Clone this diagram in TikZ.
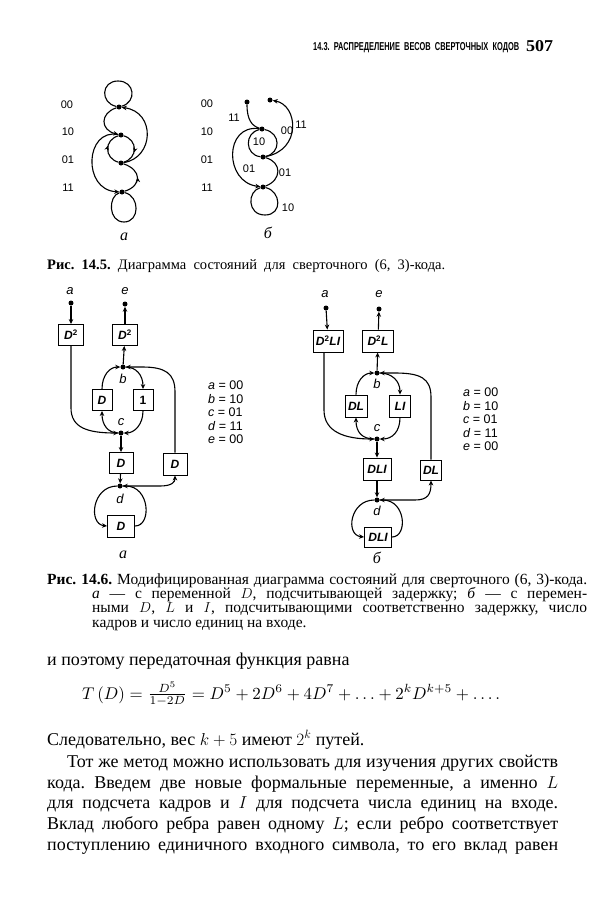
\documentclass[tikz,border=0pt]{standalone}
\usepackage{fontspec}
\setmainfont{Liberation Serif}
\newfontfamily\dfont{Liberation Sans}
\usetikzlibrary{arrows.meta,decorations.markings}
\frenchspacing
\tikzset{
  ed/.style={line width=1.1pt},
  tip/.style={-{Stealth[length=5pt,width=4.5pt]}},
  dotn/.style={circle,fill,inner sep=0pt,minimum size=5pt},
  bx/.style={draw,line width=0.9pt,inner sep=0pt,minimum height=21pt,fill=white,font=\dfont\itshape\bfseries\fontsize{12}{13}\selectfont},
  midar/.style={postaction={decorate},decoration={markings,mark=at position #1 with {\arrow{Stealth[length=5pt,width=4.5pt]}}}},
  lbl/.style={font=\dfont\fontsize{11}{12}\selectfont,inner sep=0pt},
  vl/.style={font=\dfont\itshape\fontsize{13}{13}\selectfont,inner sep=0pt},
  lg/.style={font=\dfont\fontsize{12.5}{13.4}\selectfont,align=left,anchor=north west,inner sep=0pt},
  sublbl/.style={font=\itshape\fontsize{16}{16}\selectfont,inner sep=0pt},
  txt/.style={anchor=base west,inner sep=0pt},
  bodyf/.style={font=\fontsize{18}{21}\selectfont},
  capf/.style={font=\fontsize{14.5}{16}\selectfont},
  capg/.style={font=\fontsize{15.5}{16}\selectfont},
}
\begin{document}
\begin{tikzpicture}[x=1pt,y=-1pt]
\fill[white] (0,0) rectangle (614,900);
\useasboundingbox (0,0) rectangle (614,900);

% ---------------- header
\node[txt] (hd) at (313,50) {\resizebox{206pt}{8pt}{\dfont\bfseries 14.3.~~РАСПРЕДЕЛЕНИЕ~~ВЕСОВ~~СВЕРТОЧНЫХ~~КОДОВ}};
\node[txt] (pg) at (526,51) {\resizebox{27pt}{11pt}{\bfseries 507}};

% ---------------- Fig 14.5 a
\node[lbl] (la00) at (67,105) {00};
\node[lbl] (la10) at (68,132) {10};
\node[lbl] (la01) at (68,160) {01};
\node[lbl] (la11) at (68,188) {11};
\node[dotn] (a00) at (119,107) {};
\node[dotn] (a10) at (121,135) {};
\node[dotn] (a01) at (121,163) {};
\node[dotn] (a11) at (122,192) {};
\draw[ed] (a00) .. controls (100,103) and (101,81) .. (118,81) .. controls (135,81) and (137,102) .. (a00);
\draw[ed,tip] (a00) .. controls (100,113) and (100,130) .. (a10);
\draw[ed,midar=0.6] (a01) .. controls (104,158) and (104,140) .. (a10);
\draw[ed,midar=0.6] (a10) .. controls (138,140) and (138,158) .. (a01);
\draw[ed,tip] (a01) .. controls (154,158) and (156,112) .. (a00);
\draw[ed,tip] (a10) .. controls (85,128) and (82,190) .. (a11);
\draw[ed,midar=0.5] (a11) .. controls (142,186) and (142,170) .. (a01);
\draw[ed] (a11) .. controls (108,196) and (108,222) .. (124,222) .. controls (140,222) and (140,196) .. (a11);
\node[sublbl] (capa1) at (124,237) {а};

% ---------------- Fig 14.5 b
\node[lbl] (lb00) at (207,104) {00};
\node[lbl] (lb10) at (207,132) {10};
\node[lbl] (lb01) at (207,160) {01};
\node[lbl] (lb11) at (207,188) {11};
\node[dotn] (btl) at (247,102) {};
\node[dotn] (btr) at (270,100) {};
\node[dotn] (b10) at (262,129) {};
\node[dotn] (b01) at (263,157) {};
\node[dotn] (b11) at (263,187) {};
\draw[ed] (btl) .. controls (247,120) and (252,126) .. (b10);
\draw[ed,tip] (b01) .. controls (302,150) and (298,105) .. (btr);
\draw[ed] (b10) .. controls (244,133) and (245,155) .. (b01);
\draw[ed] (b01) .. controls (281,153) and (281,133) .. (b10);
\draw[ed,tip] (b10) .. controls (224,124) and (224,182) .. (b11);
\draw[ed] (b11) .. controls (282,180) and (282,162) .. (b01);
\draw[ed] (b11) .. controls (247,191) and (247,215) .. (265,215) .. controls (283,215) and (281,191) .. (b11);
\node[lbl] (e1) at (234,118) {11};
\node[lbl] (e2) at (301,125) {11};
\node[lbl] (e3) at (259,142) {10};
\node[lbl] (e4) at (287,131) {00};
\node[lbl] (e5) at (249,169) {01};
\node[lbl] (e6) at (285,173) {01};
\node[lbl] (e7) at (288,208) {10};
\node[sublbl] (capb1) at (268,233) {б};

% ---------------- caption 14.5
\node[txt,capf] (c145) at (47,269) {\makebox[398pt][s]{\textbf{Рис. 14.5.} Диаграмма состояний для сверточного (6,~3)-кода.}};

% ---------------- Fig 14.6 a
\node[dotn] (Aa) at (71,303) {};
\node[vl] (lAa) at (70,291) {a};
\node[dotn] (Ae) at (125,304) {};
\node[vl] (lAe) at (125,291) {e};
\node[bx,minimum width=25pt] (AD2l) at (71,335) {D\textsuperscript{\upshape 2}};
\node[bx,minimum width=25pt] (AD2r) at (125,335) {D\textsuperscript{\upshape 2}};
\node[dotn] (Ab) at (123,367) {};
\node[vl] (lAb) at (123,379) {b};
\node[bx,minimum width=20pt] (ADl) at (102,400) {D};
\node[bx,minimum width=20pt] (A1) at (143,400) {\upshape 1};
\node[dotn] (Ac) at (121,433) {};
\node[vl] (lAc) at (121,422) {c};
\node[bx,minimum width=24pt] (ADm) at (121,463) {D};
\node[bx,minimum width=24pt,minimum height=22pt] (ADr) at (175,464) {D};
\node[dotn] (Ad) at (120,486) {};
\node[vl] (lAd) at (120,499) {d};
\node[bx,minimum width=27pt,minimum height=22pt] (ADb) at (121,526) {D};
\node[sublbl] (capa2) at (123,555) {а};
\node[lg] (legA) at (208,381) {\textit{a} = 00\\ \textit{b} = 10\\ \textit{c} = 01\\ \textit{d} = 11\\ \textit{e} = 00};

\draw[ed,tip] (Aa) -- (AD2l);
\draw[ed,tip] (AD2l.south) -- (71,408) .. controls (71,428) and (88,433) .. (Ac);
\draw[ed,tip] (Ab) -- (AD2r);
\draw[ed,tip] (AD2r) -- (Ae);
\draw[ed,tip] (Ac) .. controls (108,433) and (102,425) .. (ADl.south);
\draw[ed,tip] (ADl.north) .. controls (102,375) and (110,367) .. (Ab);
\draw[ed,tip] (Ab) .. controls (136,367) and (143,375) .. (A1.north);
\draw[ed,tip] (A1.south) .. controls (143,425) and (134,433) .. (Ac);
\draw[ed,tip] (Ac) -- (ADm);
\draw[ed,tip] (ADm) -- (Ad);
\draw[ed,tip] (Ad) -- (160,486) .. controls (172,486) and (175,482) .. (ADr.south);
\draw[ed,tip] (ADr.north) -- (175,392) .. controls (175,373) and (165,367) .. (142,367) -- (Ab);
\draw[ed,tip] (Ad) .. controls (92,486) and (88,524) .. (ADb.west);
\draw[ed,tip] (ADb.east) .. controls (152,526) and (150,486) .. (Ad);

% ---------------- Fig 14.6 b
\node[dotn] (Ba) at (326,308) {};
\node[vl] (lBa) at (325,294) {a};
\node[dotn] (Be) at (379,309) {};
\node[vl] (lBe) at (379,294) {e};
\node[bx,minimum width=30pt,minimum height=22pt] (BD2l) at (328,341) {D\textsuperscript{\upshape 2}LI};
\node[bx,minimum width=31pt,minimum height=22pt] (BD2r) at (378,341) {D\textsuperscript{\upshape 2}L};
\node[dotn] (Bb) at (377,373) {};
\node[vl] (lBb) at (377,384) {b};
\node[bx,minimum width=22pt,minimum height=22pt] (BDLl) at (356,406) {DL};
\node[bx,minimum width=21pt,minimum height=22pt] (BLI) at (400,406) {LI};
\node[dotn] (Bc) at (377,439) {};
\node[vl] (lBc) at (377,428) {c};
\node[bx,minimum width=28pt,minimum height=22pt] (BDLIm) at (377,469) {DLI};
\node[bx,minimum width=21pt,minimum height=20pt] (BDLr) at (431,470) {DL};
\node[dotn] (Bd) at (377,500) {};
\node[vl] (lBd) at (377,511) {d};
\node[bx,minimum width=27pt,minimum height=20pt] (BDLIb) at (378,537) {DLI};
\node[sublbl] (capb2) at (377,558) {б};
\node[lg] (legB) at (463,388) {\textit{a} = 00\\ \textit{b} = 10\\ \textit{c} = 01\\ \textit{d} = 11\\ \textit{e} = 00};

\draw[ed,tip] (Ba) -- (BD2l);
\draw[ed,tip] ([xshift=-4pt]BD2l.south) -- (324,410) .. controls (324,432) and (345,439) .. (Bc);
\draw[ed,tip] (Bb) -- (BD2r);
\draw[ed,tip] (BD2r) -- (Be);
\draw[ed,tip] (Bc) .. controls (362,439) and (356,432) .. (BDLl.south);
\draw[ed,tip] (BDLl.north) .. controls (356,381) and (364,373) .. (Bb);
\draw[ed,tip] (Bb) .. controls (392,373) and (400,381) .. (BLI.north);
\draw[ed,tip] (BLI.south) .. controls (400,432) and (392,439) .. (Bc);
\draw[ed,tip] (Bc) -- (BDLIm);
\draw[ed,tip] (BDLIm) -- (Bd);
\draw[ed,tip] (Bd) -- (415,500) .. controls (428,500) and (431,494) .. (BDLr.south);
\draw[ed,tip] (BDLr.north) -- (431,397) .. controls (431,378) and (420,373) .. (395,373) -- (Bb);
\draw[ed,tip] (Bd) .. controls (350,500) and (345,535) .. (BDLIb.west);
\draw[ed,tip] (BDLIb.east) .. controls (408,537) and (406,500) .. (Bd);

% ---------------- caption 14.6
\node[txt,capg] (c1) at (47,584) {\makebox[540pt][s]{\textbf{Рис. 14.6.} Модифицированная диаграмма состояний для сверточного (6,~3)-кода.}};
\node[txt,capg] (c2) at (92,598) {\makebox[495pt][s]{\textit{а} — с переменной $D$, подсчитывающей задержку; \textit{б} — с перемен-}};
\node[txt,capg] (c3) at (92,612) {\makebox[495pt][s]{ными $D$, $L$ и $I$, подсчитывающими соответственно задержку, число}};
\node[txt,capg] (c4) at (92,627) {кадров и число единиц на входе.};

% ---------------- body text
\node[txt,bodyf] (t1) at (47,665) {и поэтому передаточная функция равна};
\node[anchor=west,inner sep=0pt] (eq) at (82,694) {\resizebox{418pt}{!}{$T\,(D)=\frac{D^5}{1-2D}=D^5+2D^6+4D^7+\ldots+2^kD^{k+5}+\ldots.$}};
\node[txt,bodyf] (t2) at (47,745) {Следовательно, вес $k+5$ имеют $2^k$ путей.};
\node[txt,bodyf] (t3) at (67,767) {\makebox[491pt][s]{Тот же метод можно использовать для изучения других свойств}};
\node[txt,bodyf] (t4) at (47,788) {\makebox[511pt][s]{кода. Введем две новые формальные переменные, а именно $L$}};
\node[txt,bodyf] (t5) at (47,808) {\makebox[511pt][s]{для подсчета кадров и $I$ для подсчета числа единиц на входе.}};
\node[txt,bodyf] (t6) at (47,829) {\makebox[511pt][s]{Вклад любого ребра равен одному $L$; если ребро соответствует}};
\node[txt,bodyf] (t7) at (47,850) {\makebox[511pt][s]{поступлению единичного входного символа, то его вклад равен}};
\end{tikzpicture}
\end{document}
